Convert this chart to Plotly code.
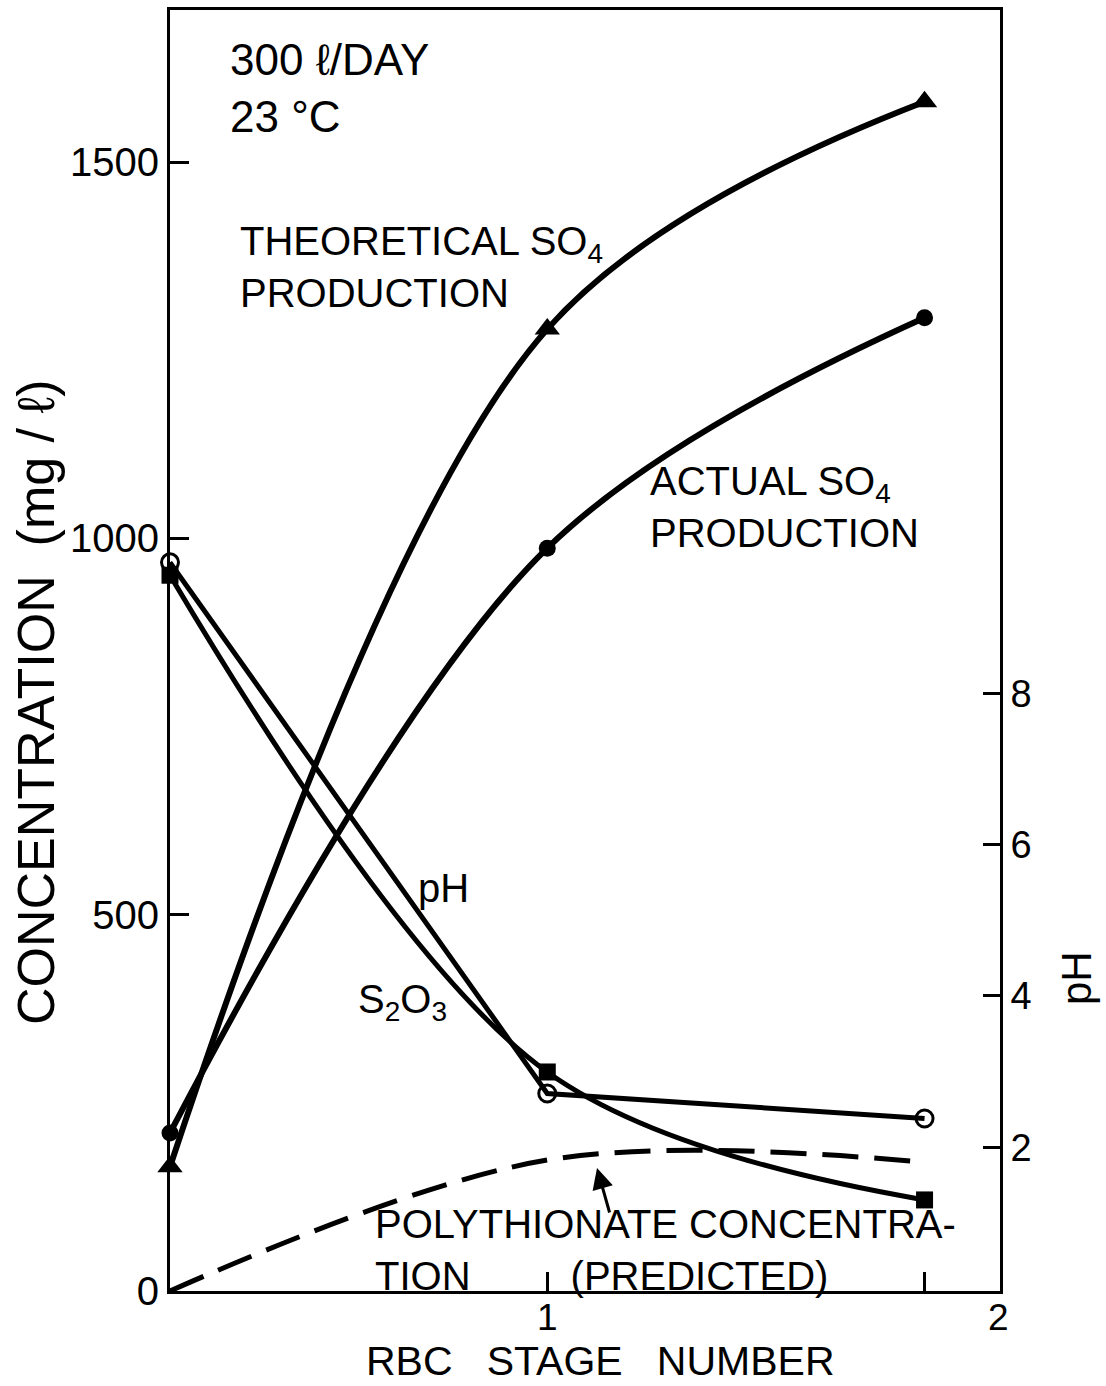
import plotly.graph_objects as go

# ---------------- data ----------------
stages = [0, 1, 2]
theoretical_so4 = [165, 1278, 1580]     # mg/l
actual_so4 = [210, 987, 1293]           # mg/l
s2o3 = [951, 291, 121]                  # mg/l
ph = [9.73, 2.71, 2.38]                 # pH (right axis)
polythionate = [0, 174, 171]            # mg/l, predicted

conc_ticks = [0, 500, 1000, 1500]
ph_ticks = [2, 4, 6, 8]
stage_ticks = [1, 2]
stage_ticktext = ["1", ""]

FONT = "Liberation Sans, Arial, Helvetica, sans-serif"
W, H = 1106, 1386
L, R, T, B = 170, 1000, 10, 1291   # plot area in pixels
NB = "\u00a0"


def paper(px, py):
    return (px - L) / (R - L), (B - py) / (B - T)


fig = go.Figure()

fig.add_trace(go.Scatter(
    x=stages, y=polythionate, mode="lines", name="Polythionate (predicted)",
    line=dict(color="black", width=5, dash="36px,16px", shape="spline"),
    cliponaxis=False))

fig.add_trace(go.Scatter(
    x=stages, y=theoretical_so4, mode="lines+markers", name="Theoretical SO4",
    line=dict(color="black", width=6, shape="spline"),
    marker=dict(symbol="triangle-up", size=22, color="black"),
    cliponaxis=False))

fig.add_trace(go.Scatter(
    x=stages, y=actual_so4, mode="lines+markers", name="Actual SO4",
    line=dict(color="black", width=6, shape="spline"),
    marker=dict(symbol="circle", size=17, color="black"),
    cliponaxis=False))

fig.add_trace(go.Scatter(
    x=stages, y=s2o3, mode="lines+markers", name="S2O3",
    line=dict(color="black", width=5, shape="spline"),
    marker=dict(symbol="square", size=17, color="black"),
    cliponaxis=False))

fig.add_trace(go.Scatter(
    x=stages, y=ph, mode="lines+markers", name="pH", yaxis="y2",
    line=dict(color="black", width=5),
    marker=dict(symbol="circle-open", size=17, color="black", line=dict(width=3)),
    cliponaxis=False))

# ---------------- annotations ----------------
ann = []


def text(px, py, s, size=40, xanchor="left", angle=0):
    x, y = paper(px, py)
    ann.append(dict(x=x, y=y, xref="paper", yref="paper", text=s, showarrow=False,
                    xanchor=xanchor, yanchor="middle", align="left", textangle=angle,
                    font=dict(family=FONT, size=size, color="black")))


text(228, 88, "300 ℓ/DAY<br>23 °C", size=44)
text(238, 267, "THEORETICAL SO<sub>4</sub><br>PRODUCTION", size=40)
text(648, 507, "ACTUAL SO<sub>4</sub><br>PRODUCTION", size=40)
text(416, 888, "pH", size=40)
text(356, 1002, "S<sub>2</sub>O<sub>3</sub>", size=40)
text(373, 1250, "POLYTHIONATE CONCENTRA-<br>TION" + NB * 9 + "(PREDICTED)", size=40)
text(998, 1317, "2", size=37, xanchor="center")

# axis titles placed where the reference draws them
text(36, 702, "CONCENTRATION" + NB * 2 + "(mg / ℓ)", size=52, xanchor="center", angle=-90)
text(1077, 978, "pH", size=42, xanchor="center", angle=-90)
text(600, 1361, "RBC" + NB * 3 + "STAGE" + NB * 3 + "NUMBER", size=41, xanchor="center")

# arrow pointing to the dashed polythionate curve
x, y = paper(597, 1168)
ann.append(dict(x=x, y=y, xref="paper", yref="paper", text="", showarrow=True,
                ax=13, ay=46, axref="pixel", ayref="pixel",
                arrowhead=2, arrowsize=1.4, arrowwidth=3, arrowcolor="black"))

fig.update_layout(
    width=W, height=H,
    margin=dict(l=L, r=W - R, t=T, b=H - B, pad=0, autoexpand=False),
    paper_bgcolor="white", plot_bgcolor="white",
    showlegend=False,
    font=dict(family=FONT, color="black"),
    annotations=ann,
    xaxis=dict(
        range=[0, 2.2], tickvals=stage_ticks, ticktext=stage_ticktext,
        ticks="inside", ticklen=19, tickwidth=3, tickcolor="black",
        showline=True, linewidth=3, linecolor="black", mirror=True,
        showgrid=False, zeroline=False, automargin=False,
        ticklabelstandoff=-8,
        tickfont=dict(family=FONT, size=37),
    ),
    yaxis=dict(
        range=[0, 1702], tickvals=conc_ticks,
        ticks="inside", ticklen=19, tickwidth=3, tickcolor="black",
        showline=True, linewidth=3, linecolor="black",
        showgrid=False, zeroline=False, automargin=False,
        tickfont=dict(family=FONT, size=40),
    ),
    yaxis2=dict(
        range=[0.1, 17.03], tickvals=ph_ticks, overlaying="y", side="right",
        ticks="inside", ticklen=17, tickwidth=3, tickcolor="black",
        showline=True, linewidth=3, linecolor="black",
        showgrid=False, zeroline=False, automargin=False,
        tickfont=dict(family=FONT, size=38),
    ),
)

fig.write_html("out.html")
